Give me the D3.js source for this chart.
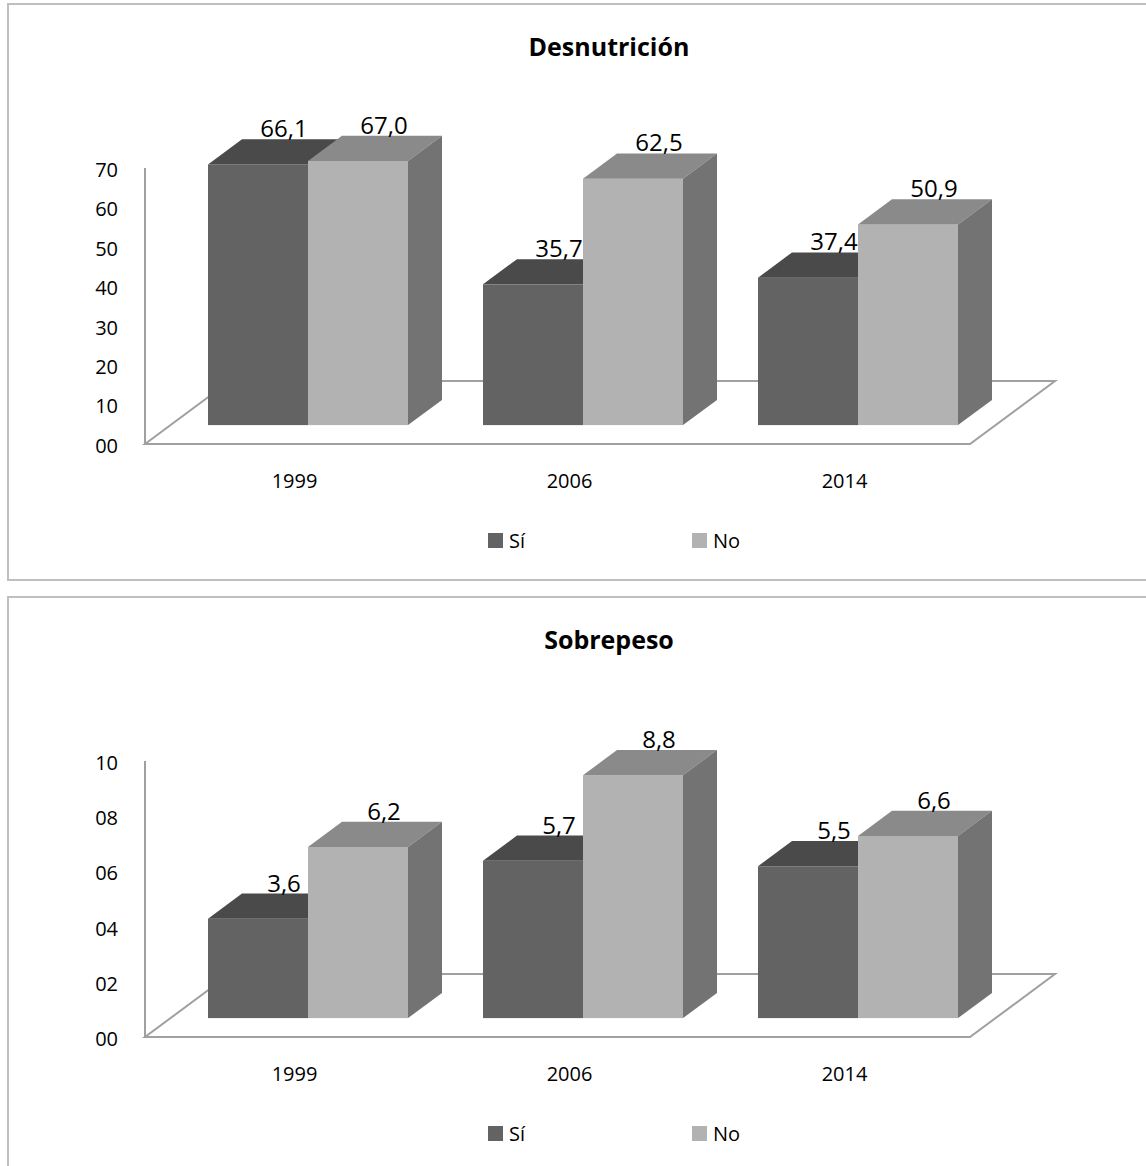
<!DOCTYPE html>
<html>
<head>
<meta charset="utf-8">
<script src="https://cdn.jsdelivr.net/npm/d3@7"></script>
<style>
  html, body { margin: 0; padding: 0; background: #fff; }
  svg { display: block; font-family: "Open Sans", Lato, sans-serif; }
</style>
</head>
<body>
<svg id="chart" width="1146" height="1166"></svg>
<script>
// Categories and series
const years = ["1999", "2006", "2014"];
const seriesNames = ["Sí", "No"];

// Desnutrición (%)
const desnutricionSi = [66.1, 35.7, 37.4];
const desnutricionNo = [67.0, 62.5, 50.9];
const desnutricionTicks = [0, 10, 20, 30, 40, 50, 60, 70];

// Sobrepeso (%)
const sobrepesoSi = [3.6, 5.7, 5.5];
const sobrepesoNo = [6.2, 8.8, 6.6];
const sobrepesoTicks = [0, 2, 4, 6, 8, 10];

const svg = d3.select("#chart");
const FONT = "'Open Sans', Lato, sans-serif";

const faceColors = {
  "Sí": { front: "#636363", top: "#4a4a4a", side: "#404040" },
  "No": { front: "#b2b2b2", top: "#8a8a8a", side: "#737373" }
};

const fmtValue = v => d3.format(".1f")(v).replace(".", ",");
const fmtTick = d3.format("02d");

function drawPanel(g, title, siValues, noValues, ticks, maxVal) {
  const floorLeft = 145, floorRight = 970, floorY = 444;
  const depth = { dx: 85, dy: -63 };       // full floor depth vector
  const frontF = 0.3, backF = 0.7;          // bars occupy middle of the depth

  const x = d3.scaleBand().domain(years).range([floorLeft, floorRight]).padding(0);
  const xs = d3.scaleBand().domain(seriesNames)
    .range([37.5, x.bandwidth() - 37.5]).padding(0);
  const y = d3.scaleLinear().domain([0, maxVal]).range([floorY, floorY - 276]);

  // Title
  g.append("text")
    .attr("x", 609).attr("y", 56)
    .attr("text-anchor", "middle")
    .attr("font-size", 25).attr("font-weight", "bold")
    .attr("fill", "#000")
    .text(title);

  // Floor
  const floorPts = [
    [floorLeft, floorY],
    [floorRight, floorY],
    [floorRight + depth.dx, floorY + depth.dy],
    [floorLeft + depth.dx, floorY + depth.dy]
  ];
  g.append("polygon")
    .attr("points", floorPts.map(p => p.join(",")).join(" "))
    .attr("fill", "#fff")
    .attr("stroke", "#a0a0a0")
    .attr("stroke-width", 2);

  // Vertical axis line
  g.append("line")
    .attr("x1", floorLeft).attr("x2", floorLeft)
    .attr("y1", y(maxVal)).attr("y2", floorY)
    .attr("stroke", "#a0a0a0").attr("stroke-width", 2);

  // Y axis tick labels
  const yAxis = d3.axisLeft(y).tickValues(ticks).tickFormat(fmtTick)
    .tickSize(0).tickPadding(27);
  const ya = g.append("g").attr("transform", `translate(${floorLeft},2)`).call(yAxis);
  ya.select(".domain").remove();
  ya.selectAll("text")
    .attr("font-size", 20)
    .attr("font-family", FONT)
    .attr("fill", "#000");

  // Bars
  const offX = depth.dx * frontF, offY = depth.dy * frontF;
  const bdx = depth.dx * (backF - frontF), bdy = depth.dy * (backF - frontF);
  const w = xs.bandwidth();

  const data = [];
  years.forEach((yr, i) => {
    data.push({ year: yr, s: "Sí", v: siValues[i] });
    data.push({ year: yr, s: "No", v: noValues[i] });
  });

  const bars = g.append("g").selectAll("g.bar").data(data).join("g").attr("class", "bar");

  bars.each(function(d) {
    const b = d3.select(this);
    const x0 = x(d.year) + xs(d.s) + offX;
    const yt = y(d.v) + offY;
    const yb = y(0) + offY;
    const c = faceColors[d.s];
    // front
    b.append("rect")
      .attr("x", x0).attr("y", yt)
      .attr("width", w).attr("height", yb - yt)
      .attr("fill", c.front);
    // top
    b.append("polygon")
      .attr("points", [
        [x0, yt], [x0 + w, yt], [x0 + w + bdx, yt + bdy], [x0 + bdx, yt + bdy]
      ].map(p => p.join(",")).join(" "))
      .attr("fill", c.top);
    // side
    b.append("polygon")
      .attr("points", [
        [x0 + w, yt], [x0 + w + bdx, yt + bdy], [x0 + w + bdx, yb + bdy], [x0 + w, yb]
      ].map(p => p.join(",")).join(" "))
      .attr("fill", c.side);
  });

  // Value labels
  g.append("g").selectAll("text").data(data).join("text")
    .attr("x", d => x(d.year) + xs(d.s) + offX + w / 2 + 26)
    .attr("y", d => y(d.v) + offY + bdy - 2)
    .attr("text-anchor", "middle")
    .attr("font-size", 24)
    .attr("fill", "#000")
    .text(d => fmtValue(d.v));

  // Category labels
  g.append("g").selectAll("text").data(years).join("text")
    .attr("x", d => x(d) + x.bandwidth() / 2 + 12)
    .attr("y", 488)
    .attr("text-anchor", "middle")
    .attr("font-size", 20)
    .attr("fill", "#000")
    .text(d => d);

  // Legend
  const legendX = { "Sí": 488, "No": 692 };
  const lg = g.append("g").selectAll("g").data(seriesNames).join("g")
    .attr("transform", d => `translate(${legendX[d]},533)`);
  lg.append("rect").attr("width", 15).attr("height", 15)
    .attr("fill", d => faceColors[d].front);
  lg.append("text").attr("x", 21).attr("y", 15)
    .attr("font-size", 20).attr("fill", "#000")
    .text(d => d);
}

// Panel frames
svg.append("rect").attr("x", 8).attr("y", 4).attr("width", 1150).attr("height", 576)
  .attr("fill", "#fff").attr("stroke", "#bfbfbf").attr("stroke-width", 2);
svg.append("rect").attr("x", 8).attr("y", 597).attr("width", 1150).attr("height", 600)
  .attr("fill", "#fff").attr("stroke", "#bfbfbf").attr("stroke-width", 2);

const panelTop = svg.append("g");
drawPanel(panelTop, "Desnutrición", desnutricionSi, desnutricionNo, desnutricionTicks, 70);

const panelBottom = svg.append("g").attr("transform", "translate(0,593)");
drawPanel(panelBottom, "Sobrepeso", sobrepesoSi, sobrepesoNo, sobrepesoTicks, 10);
</script>
</body>
</html>
